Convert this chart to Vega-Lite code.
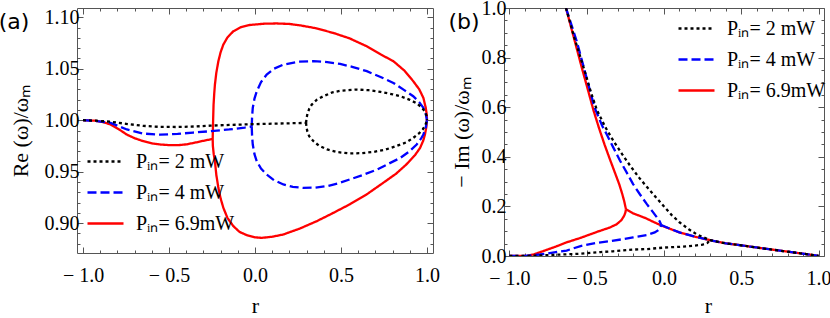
{
  "$schema": "https://vega.github.io/schema/vega-lite/v6.json",
  "padding": {"left": -2, "top": -3, "right": 0, "bottom": 0},
  "background": "white",
  "config": {"font": "Liberation Serif", "view": {"stroke": "#555", "strokeWidth": 1}},
  "bounds": "flush",
  "spacing": 71,
  "resolve": {"legend": {"color": "independent", "strokeDash": "independent"}},
  "datasets": {
    "re": [
      {"p":"6.9","s":"a","r":-1,"v":1.0},{"p":"6.9","s":"a","r":-0.93,"v":0.9995},{"p":"6.9","s":"a","r":-0.88,"v":0.998},{"p":"6.9","s":"a","r":-0.84,"v":0.9958},{"p":"6.9","s":"a","r":-0.79,"v":0.991},{"p":"6.9","s":"a","r":-0.745,"v":0.986},{"p":"6.9","s":"a","r":-0.7,"v":0.9825},{"p":"6.9","s":"a","r":-0.65,"v":0.9796},{"p":"6.9","s":"a","r":-0.6,"v":0.9775},{"p":"6.9","s":"a","r":-0.55,"v":0.9764},{"p":"6.9","s":"a","r":-0.5,"v":0.9758},{"p":"6.9","s":"a","r":-0.45,"v":0.9757},{"p":"6.9","s":"a","r":-0.4,"v":0.9765},{"p":"6.9","s":"a","r":-0.355,"v":0.978},{"p":"6.9","s":"a","r":-0.3,"v":0.98},{"p":"6.9","s":"a","r":-0.246,"v":0.9818},
      {"p":"6.9","s":"b","r":-0.246,"v":0.9818},{"p":"6.9","s":"b","r":-0.245,"v":0.99},{"p":"6.9","s":"b","r":-0.2435,"v":1.0},{"p":"6.9","s":"b","r":-0.241,"v":1.015},{"p":"6.9","s":"b","r":-0.237,"v":1.026},{"p":"6.9","s":"b","r":-0.233,"v":1.0347},{"p":"6.9","s":"b","r":-0.225,"v":1.046},{"p":"6.9","s":"b","r":-0.213,"v":1.0573},{"p":"6.9","s":"b","r":-0.2,"v":1.066},{"p":"6.9","s":"b","r":-0.184,"v":1.0735},{"p":"6.9","s":"b","r":-0.16,"v":1.0805},{"p":"6.9","s":"b","r":-0.126,"v":1.0864},{"p":"6.9","s":"b","r":-0.08,"v":1.0905},{"p":"6.9","s":"b","r":-0.03,"v":1.0925},{"p":"6.9","s":"b","r":0.05,"v":1.0937},{"p":"6.9","s":"b","r":0.125,"v":1.094},{"p":"6.9","s":"b","r":0.2,"v":1.0935},{"p":"6.9","s":"b","r":0.26,"v":1.0922},{"p":"6.9","s":"b","r":0.35,"v":1.0895},{"p":"6.9","s":"b","r":0.455,"v":1.0848},{"p":"6.9","s":"b","r":0.55,"v":1.0795},{"p":"6.9","s":"b","r":0.65,"v":1.0718},{"p":"6.9","s":"b","r":0.73,"v":1.064},{"p":"6.9","s":"b","r":0.805,"v":1.0573},{"p":"6.9","s":"b","r":0.87,"v":1.048},{"p":"6.9","s":"b","r":0.92,"v":1.0379},{"p":"6.9","s":"b","r":0.955,"v":1.03},{"p":"6.9","s":"b","r":0.979,"v":1.0217},{"p":"6.9","s":"b","r":0.993,"v":1.012},{"p":"6.9","s":"b","r":0.999,"v":1.005},{"p":"6.9","s":"b","r":1.0,"v":1.0},
      {"p":"6.9","s":"c","r":-0.246,"v":0.9818},{"p":"6.9","s":"c","r":-0.245,"v":0.975},{"p":"6.9","s":"c","r":-0.24,"v":0.967},{"p":"6.9","s":"c","r":-0.233,"v":0.9602},{"p":"6.9","s":"c","r":-0.225,"v":0.947},{"p":"6.9","s":"c","r":-0.213,"v":0.9343},{"p":"6.9","s":"c","r":-0.2,"v":0.924},{"p":"6.9","s":"c","r":-0.184,"v":0.9149},{"p":"6.9","s":"c","r":-0.16,"v":0.905},{"p":"6.9","s":"c","r":-0.126,"v":0.8971},{"p":"6.9","s":"c","r":-0.09,"v":0.8915},{"p":"6.9","s":"c","r":-0.048,"v":0.8883},{"p":"6.9","s":"c","r":0.0,"v":0.8862},{"p":"6.9","s":"c","r":0.04,"v":0.8857},{"p":"6.9","s":"c","r":0.1,"v":0.8868},{"p":"6.9","s":"c","r":0.165,"v":0.889},{"p":"6.9","s":"c","r":0.26,"v":0.8947},{"p":"6.9","s":"c","r":0.36,"v":0.902},{"p":"6.9","s":"c","r":0.45,"v":0.9095},{"p":"6.9","s":"c","r":0.55,"v":0.9182},{"p":"6.9","s":"c","r":0.65,"v":0.928},{"p":"6.9","s":"c","r":0.745,"v":0.9391},{"p":"6.9","s":"c","r":0.82,"v":0.948},{"p":"6.9","s":"c","r":0.88,"v":0.957},{"p":"6.9","s":"c","r":0.93,"v":0.966},{"p":"6.9","s":"c","r":0.96,"v":0.9731},{"p":"6.9","s":"c","r":0.978,"v":0.98},{"p":"6.9","s":"c","r":0.988,"v":0.986},{"p":"6.9","s":"c","r":0.996,"v":0.993},{"p":"6.9","s":"c","r":1.0,"v":1.0},
      {"p":"4","s":"a","r":-1,"v":1.0},{"p":"4","s":"a","r":-0.92,"v":0.9992},{"p":"4","s":"a","r":-0.84,"v":0.9974},{"p":"4","s":"a","r":-0.745,"v":0.991},{"p":"4","s":"a","r":-0.65,"v":0.987},{"p":"4","s":"a","r":-0.55,"v":0.986},{"p":"4","s":"a","r":-0.45,"v":0.9867},{"p":"4","s":"a","r":-0.36,"v":0.988},{"p":"4","s":"a","r":-0.26,"v":0.9893},{"p":"4","s":"a","r":-0.15,"v":0.991},{"p":"4","s":"a","r":-0.06,"v":0.9928},{"p":"4","s":"a","r":-0.019,"v":0.9938},
      {"p":"4","s":"b","r":-0.019,"v":0.9938},{"p":"4","s":"b","r":-0.017,"v":1.003},{"p":"4","s":"b","r":-0.013,"v":1.012},{"p":"4","s":"b","r":-0.003,"v":1.021},{"p":"4","s":"b","r":0.01,"v":1.028},{"p":"4","s":"b","r":0.035,"v":1.037},{"p":"4","s":"b","r":0.068,"v":1.0444},{"p":"4","s":"b","r":0.11,"v":1.05},{"p":"4","s":"b","r":0.165,"v":1.054},{"p":"4","s":"b","r":0.25,"v":1.0568},{"p":"4","s":"b","r":0.34,"v":1.0573},{"p":"4","s":"b","r":0.42,"v":1.0565},{"p":"4","s":"b","r":0.495,"v":1.0547},{"p":"4","s":"b","r":0.57,"v":1.0516},{"p":"4","s":"b","r":0.65,"v":1.0476},{"p":"4","s":"b","r":0.73,"v":1.042},{"p":"4","s":"b","r":0.805,"v":1.0362},{"p":"4","s":"b","r":0.87,"v":1.029},{"p":"4","s":"b","r":0.92,"v":1.0233},{"p":"4","s":"b","r":0.955,"v":1.0175},{"p":"4","s":"b","r":0.979,"v":1.012},{"p":"4","s":"b","r":0.993,"v":1.006},{"p":"4","s":"b","r":1.0,"v":1.0},
      {"p":"4","s":"c","r":-0.019,"v":0.9938},{"p":"4","s":"c","r":-0.017,"v":0.985},{"p":"4","s":"c","r":-0.013,"v":0.9764},{"p":"4","s":"c","r":-0.003,"v":0.967},{"p":"4","s":"c","r":0.01,"v":0.9602},{"p":"4","s":"c","r":0.035,"v":0.953},{"p":"4","s":"c","r":0.068,"v":0.9473},{"p":"4","s":"c","r":0.11,"v":0.9418},{"p":"4","s":"c","r":0.165,"v":0.9376},{"p":"4","s":"c","r":0.22,"v":0.9352},{"p":"4","s":"c","r":0.28,"v":0.9343},{"p":"4","s":"c","r":0.35,"v":0.9345},{"p":"4","s":"c","r":0.42,"v":0.936},{"p":"4","s":"c","r":0.49,"v":0.939},{"p":"4","s":"c","r":0.55,"v":0.9424},{"p":"4","s":"c","r":0.63,"v":0.947},{"p":"4","s":"c","r":0.71,"v":0.9521},{"p":"4","s":"c","r":0.78,"v":0.958},{"p":"4","s":"c","r":0.845,"v":0.9634},{"p":"4","s":"c","r":0.9,"v":0.97},{"p":"4","s":"c","r":0.94,"v":0.9764},{"p":"4","s":"c","r":0.965,"v":0.982},{"p":"4","s":"c","r":0.979,"v":0.9861},{"p":"4","s":"c","r":0.993,"v":0.993},{"p":"4","s":"c","r":1.0,"v":1.0},
      {"p":"2","s":"a","r":-1,"v":1.0},{"p":"2","s":"a","r":-0.92,"v":0.9995},{"p":"2","s":"a","r":-0.84,"v":0.9985},{"p":"2","s":"a","r":-0.75,"v":0.9965},{"p":"2","s":"a","r":-0.65,"v":0.9945},{"p":"2","s":"a","r":-0.55,"v":0.9935},{"p":"2","s":"a","r":-0.45,"v":0.9934},{"p":"2","s":"a","r":-0.35,"v":0.9939},{"p":"2","s":"a","r":-0.26,"v":0.9947},{"p":"2","s":"a","r":-0.15,"v":0.9954},{"p":"2","s":"a","r":-0.02,"v":0.9961},{"p":"2","s":"a","r":0.1,"v":0.9966},{"p":"2","s":"a","r":0.2,"v":0.997},{"p":"2","s":"a","r":0.297,"v":0.9974},
      {"p":"2","s":"b","r":0.297,"v":0.9974},{"p":"2","s":"b","r":0.299,"v":1.001},{"p":"2","s":"b","r":0.304,"v":1.0055},{"p":"2","s":"b","r":0.315,"v":1.011},{"p":"2","s":"b","r":0.33,"v":1.0152},{"p":"2","s":"b","r":0.36,"v":1.02},{"p":"2","s":"b","r":0.4,"v":1.0235},{"p":"2","s":"b","r":0.45,"v":1.027},{"p":"2","s":"b","r":0.5,"v":1.0287},{"p":"2","s":"b","r":0.59,"v":1.0298},{"p":"2","s":"b","r":0.66,"v":1.0292},{"p":"2","s":"b","r":0.73,"v":1.0275},{"p":"2","s":"b","r":0.8,"v":1.0252},{"p":"2","s":"b","r":0.85,"v":1.023},{"p":"2","s":"b","r":0.9,"v":1.0198},{"p":"2","s":"b","r":0.94,"v":1.0165},{"p":"2","s":"b","r":0.97,"v":1.0122},{"p":"2","s":"b","r":0.988,"v":1.0087},{"p":"2","s":"b","r":0.997,"v":1.0045},{"p":"2","s":"b","r":1.0,"v":1.0},
      {"p":"2","s":"c","r":0.297,"v":0.9974},{"p":"2","s":"c","r":0.299,"v":0.9935},{"p":"2","s":"c","r":0.304,"v":0.9893},{"p":"2","s":"c","r":0.315,"v":0.9845},{"p":"2","s":"c","r":0.34,"v":0.9796},{"p":"2","s":"c","r":0.37,"v":0.9755},{"p":"2","s":"c","r":0.42,"v":0.9716},{"p":"2","s":"c","r":0.48,"v":0.969},{"p":"2","s":"c","r":0.55,"v":0.9677},{"p":"2","s":"c","r":0.62,"v":0.968},{"p":"2","s":"c","r":0.69,"v":0.9692},{"p":"2","s":"c","r":0.76,"v":0.9715},{"p":"2","s":"c","r":0.82,"v":0.9748},{"p":"2","s":"c","r":0.88,"v":0.9785},{"p":"2","s":"c","r":0.92,"v":0.9828},{"p":"2","s":"c","r":0.955,"v":0.9875},{"p":"2","s":"c","r":0.975,"v":0.991},{"p":"2","s":"c","r":0.99,"v":0.995},{"p":"2","s":"c","r":1.0,"v":1.0}
    ],
    "im": [
      {"p":"6.9","s":"u","r":-0.634,"v":1.0},{"p":"6.9","s":"u","r":-0.585,"v":0.885},{"p":"6.9","s":"u","r":-0.532,"v":0.76},{"p":"6.9","s":"u","r":-0.49,"v":0.665},{"p":"6.9","s":"u","r":-0.455,"v":0.585},{"p":"6.9","s":"u","r":-0.42,"v":0.515},{"p":"6.9","s":"u","r":-0.385,"v":0.45},{"p":"6.9","s":"u","r":-0.35,"v":0.39},{"p":"6.9","s":"u","r":-0.317,"v":0.335},{"p":"6.9","s":"u","r":-0.29,"v":0.29},{"p":"6.9","s":"u","r":-0.27,"v":0.25},{"p":"6.9","s":"u","r":-0.257,"v":0.22},{"p":"6.9","s":"u","r":-0.25,"v":0.2},{"p":"6.9","s":"u","r":-0.246,"v":0.188},
      {"p":"6.9","s":"l","r":-1,"v":0},{"p":"6.9","s":"l","r":-0.89,"v":0},{"p":"6.9","s":"l","r":-0.845,"v":0.006},{"p":"6.9","s":"l","r":-0.78,"v":0.02},{"p":"6.9","s":"l","r":-0.7,"v":0.038},{"p":"6.9","s":"l","r":-0.63,"v":0.055},{"p":"6.9","s":"l","r":-0.54,"v":0.073},{"p":"6.9","s":"l","r":-0.43,"v":0.098},{"p":"6.9","s":"l","r":-0.35,"v":0.115},{"p":"6.9","s":"l","r":-0.306,"v":0.128},{"p":"6.9","s":"l","r":-0.275,"v":0.145},{"p":"6.9","s":"l","r":-0.258,"v":0.162},{"p":"6.9","s":"l","r":-0.25,"v":0.175},{"p":"6.9","s":"l","r":-0.246,"v":0.188},
      {"p":"6.9","s":"c","r":-0.246,"v":0.188},{"p":"6.9","s":"c","r":-0.2,"v":0.172},{"p":"6.9","s":"c","r":-0.12,"v":0.153},{"p":"6.9","s":"c","r":-0.06,"v":0.135},{"p":"6.9","s":"c","r":-0.018,"v":0.123},{"p":"6.9","s":"c","r":0.05,"v":0.107},{"p":"6.9","s":"c","r":0.1,"v":0.095},{"p":"6.9","s":"c","r":0.2,"v":0.078},{"p":"6.9","s":"c","r":0.297,"v":0.064},{"p":"6.9","s":"c","r":0.35,"v":0.057},{"p":"6.9","s":"c","r":0.4,"v":0.051},{"p":"6.9","s":"c","r":0.5,"v":0.043},{"p":"6.9","s":"c","r":0.556,"v":0.038},{"p":"6.9","s":"c","r":0.65,"v":0.03},{"p":"6.9","s":"c","r":0.77,"v":0.02},{"p":"6.9","s":"c","r":0.88,"v":0.011},{"p":"6.9","s":"c","r":0.95,"v":0.005},{"p":"6.9","s":"c","r":1.0,"v":0},
      {"p":"4","s":"u","r":-0.634,"v":1.0},{"p":"4","s":"u","r":-0.565,"v":0.867},{"p":"4","s":"u","r":-0.51,"v":0.74},{"p":"4","s":"u","r":-0.45,"v":0.6},{"p":"4","s":"u","r":-0.4,"v":0.525},{"p":"4","s":"u","r":-0.37,"v":0.49},{"p":"4","s":"u","r":-0.33,"v":0.44},{"p":"4","s":"u","r":-0.285,"v":0.385},{"p":"4","s":"u","r":-0.24,"v":0.335},{"p":"4","s":"u","r":-0.2,"v":0.29},{"p":"4","s":"u","r":-0.155,"v":0.248},{"p":"4","s":"u","r":-0.112,"v":0.21},{"p":"4","s":"u","r":-0.075,"v":0.18},{"p":"4","s":"u","r":-0.047,"v":0.157},{"p":"4","s":"u","r":-0.028,"v":0.14},{"p":"4","s":"u","r":-0.018,"v":0.125},
      {"p":"4","s":"l","r":-1,"v":0},{"p":"4","s":"l","r":-0.89,"v":0.001},{"p":"4","s":"l","r":-0.8,"v":0.006},{"p":"4","s":"l","r":-0.63,"v":0.022},{"p":"4","s":"l","r":-0.54,"v":0.04},{"p":"4","s":"l","r":-0.435,"v":0.053},{"p":"4","s":"l","r":-0.35,"v":0.06},{"p":"4","s":"l","r":-0.263,"v":0.068},{"p":"4","s":"l","r":-0.2,"v":0.075},{"p":"4","s":"l","r":-0.112,"v":0.084},{"p":"4","s":"l","r":-0.06,"v":0.095},{"p":"4","s":"l","r":-0.037,"v":0.104},{"p":"4","s":"l","r":-0.025,"v":0.113},{"p":"4","s":"l","r":-0.018,"v":0.125},
      {"p":"4","s":"c","r":-0.018,"v":0.125},{"p":"4","s":"c","r":0.05,"v":0.107},{"p":"4","s":"c","r":0.1,"v":0.095},{"p":"4","s":"c","r":0.2,"v":0.078},{"p":"4","s":"c","r":0.297,"v":0.064},{"p":"4","s":"c","r":0.35,"v":0.057},{"p":"4","s":"c","r":0.4,"v":0.051},{"p":"4","s":"c","r":0.5,"v":0.043},{"p":"4","s":"c","r":0.556,"v":0.038},{"p":"4","s":"c","r":0.65,"v":0.03},{"p":"4","s":"c","r":0.77,"v":0.02},{"p":"4","s":"c","r":0.88,"v":0.011},{"p":"4","s":"c","r":0.95,"v":0.005},{"p":"4","s":"c","r":1.0,"v":0},
      {"p":"2","s":"u","r":-0.634,"v":1.0},{"p":"2","s":"u","r":-0.58,"v":0.88},{"p":"2","s":"u","r":-0.52,"v":0.76},{"p":"2","s":"u","r":-0.47,"v":0.655},{"p":"2","s":"u","r":-0.435,"v":0.59},{"p":"2","s":"u","r":-0.38,"v":0.52},{"p":"2","s":"u","r":-0.33,"v":0.467},{"p":"2","s":"u","r":-0.27,"v":0.41},{"p":"2","s":"u","r":-0.22,"v":0.365},{"p":"2","s":"u","r":-0.16,"v":0.315},{"p":"2","s":"u","r":-0.11,"v":0.278},{"p":"2","s":"u","r":-0.05,"v":0.235},{"p":"2","s":"u","r":0.0,"v":0.2},{"p":"2","s":"u","r":0.05,"v":0.165},{"p":"2","s":"u","r":0.1,"v":0.136},{"p":"2","s":"u","r":0.16,"v":0.108},{"p":"2","s":"u","r":0.21,"v":0.088},{"p":"2","s":"u","r":0.26,"v":0.074},{"p":"2","s":"u","r":0.297,"v":0.064},
      {"p":"2","s":"l","r":-1,"v":0},{"p":"2","s":"l","r":-0.85,"v":0.001},{"p":"2","s":"l","r":-0.7,"v":0.005},{"p":"2","s":"l","r":-0.63,"v":0.007},{"p":"2","s":"l","r":-0.54,"v":0.009},{"p":"2","s":"l","r":-0.41,"v":0.016},{"p":"2","s":"l","r":-0.33,"v":0.019},{"p":"2","s":"l","r":-0.2,"v":0.026},{"p":"2","s":"l","r":-0.11,"v":0.028},{"p":"2","s":"l","r":0.0,"v":0.034},{"p":"2","s":"l","r":0.1,"v":0.037},{"p":"2","s":"l","r":0.2,"v":0.042},{"p":"2","s":"l","r":0.25,"v":0.046},{"p":"2","s":"l","r":0.28,"v":0.052},{"p":"2","s":"l","r":0.297,"v":0.064},
      {"p":"2","s":"c","r":0.297,"v":0.064},{"p":"2","s":"c","r":0.35,"v":0.057},{"p":"2","s":"c","r":0.4,"v":0.051},{"p":"2","s":"c","r":0.5,"v":0.043},{"p":"2","s":"c","r":0.556,"v":0.038},{"p":"2","s":"c","r":0.65,"v":0.03},{"p":"2","s":"c","r":0.77,"v":0.02},{"p":"2","s":"c","r":0.88,"v":0.011},{"p":"2","s":"c","r":0.95,"v":0.005},{"p":"2","s":"c","r":1.0,"v":0}
    ]
  },
  "hconcat": [
    {
      "width": 356,
      "height": 245,
      "resolve": {"axis": {"x": "independent", "y": "independent"}},
      "layer": [
        {
          "data": {"name": "re"},
          "mark": {"type": "line", "strokeWidth": 2.3, "clip": true},
          "encoding": {
            "x": {"field": "r", "type": "quantitative",
              "scale": {"domain": [-1.035, 1.035], "nice": false, "zero": false},
              "axis": {"orient": "bottom", "values": [-1,-0.9,-0.8,-0.7,-0.6,-0.5,-0.4,-0.3,-0.2,-0.1,0,0.1,0.2,0.3,0.4,0.5,0.6,0.7,0.8,0.9,1],
                "title": "r", "titleFont": "Liberation Serif", "titleFontSize": 22, "titleFontWeight": "normal", "titleColor": "black", "titlePadding": 7,
                "domain": false, "grid": false, "tickColor": "#555",
                "tickSize": {"condition": {"test": "abs(datum.value*2-round(datum.value*2))<0.001", "value": -6}, "value": -3},
                "labelExpr": "abs(datum.value*2-round(datum.value*2))<0.001 ? (datum.value < -0.001 ? '− ' + format(-datum.value,'.1f') : format(abs(datum.value),'.1f')) : ''",
                "labelFont": "Liberation Serif", "labelFontSize": 20, "labelColor": "black", "labelPadding": 18, "labelOverlap": false, "labelFlush": false, "labelBound": false}},
            "y": {"field": "v", "type": "quantitative",
              "scale": {"domain": [0.871, 1.109], "nice": false, "zero": false},
              "axis": {"orient": "left", "values": [0.88,0.89,0.9,0.91,0.92,0.93,0.94,0.95,0.96,0.97,0.98,0.99,1,1.01,1.02,1.03,1.04,1.05,1.06,1.07,1.08,1.09,1.1],
                "title": "Re (ω)/ωₘ", "titleFont": "Liberation Serif", "titleFontSize": 22, "titleFontWeight": "normal", "titleColor": "black", "titlePadding": 12,
                "domain": false, "grid": false, "tickColor": "#555",
                "tickSize": {"condition": {"test": "abs(datum.value*20-round(datum.value*20))<0.001", "value": -6}, "value": -3},
                "labelExpr": "abs(datum.value*20-round(datum.value*20))<0.001 ? format(datum.value,'.2f') : ''",
                "labelFont": "Liberation Serif", "labelFontSize": 20, "labelColor": "black", "labelPadding": 4, "labelOverlap": false, "labelBound": false}},
            "color": {"field": "p", "type": "nominal",
              "scale": {"domain": ["2","4","6.9"], "range": ["#000000","#0000ff","#ff0000"]},
              "legend": {"title": null, "orient": "none", "legendX": 9, "legendY": 134, "symbolType": "stroke", "symbolSize": 1296, "symbolStrokeWidth": 2.3, "labelFont": "Liberation Serif", "labelFontSize": 20, "labelColor": "black", "labelOffset": 11, "rowPadding": 1, "padding": 0, "labelExpr": "'Pᵢₙ= ' + datum.label + (datum.label == '6.9' ? 'mW' : ' mW')"}},
            "strokeDash": {"field": "p", "type": "nominal",
              "scale": {"domain": ["2","4","6.9"], "range": [[3,3],[9,4],[1,0]]},
              "legend": {"title": null, "orient": "none", "legendX": 9, "legendY": 134, "symbolType": "stroke", "symbolSize": 1296, "symbolStrokeWidth": 2.3, "labelFont": "Liberation Serif", "labelFontSize": 20, "labelColor": "black", "labelOffset": 11, "rowPadding": 1, "padding": 0, "labelExpr": "'Pᵢₙ= ' + datum.label + (datum.label == '6.9' ? 'mW' : ' mW')"}},
            "detail": {"field": "s"},
            "order": {"value": null}
          }
        },
        {
          "data": {"values": [{"lab": "(a)"}]},
          "mark": {"type": "text", "font": "DejaVu Sans", "fontSize": 22, "align": "center", "baseline": "middle", "color": "black"},
          "encoding": {
            "text": {"field": "lab"},
            "x": {"datum": -1.401, "type": "quantitative",
              "scale": {"domain": [-1.035, 1.035], "nice": false, "zero": false},
              "axis": {"orient": "top", "values": [-1,-0.9,-0.8,-0.7,-0.6,-0.5,-0.4,-0.3,-0.2,-0.1,0,0.1,0.2,0.3,0.4,0.5,0.6,0.7,0.8,0.9,1],
                "title": null, "labels": false, "domain": false, "grid": false, "tickColor": "#555",
                "tickSize": {"condition": {"test": "abs(datum.value*2-round(datum.value*2))<0.001", "value": -6}, "value": -3}}},
            "y": {"datum": 1.0951, "type": "quantitative",
              "scale": {"domain": [0.871, 1.109], "nice": false, "zero": false},
              "axis": {"orient": "right", "values": [0.88,0.89,0.9,0.91,0.92,0.93,0.94,0.95,0.96,0.97,0.98,0.99,1,1.01,1.02,1.03,1.04,1.05,1.06,1.07,1.08,1.09,1.1],
                "title": null, "labels": false, "domain": false, "grid": false, "tickColor": "#555",
                "tickSize": {"condition": {"test": "abs(datum.value*20-round(datum.value*20))<0.001", "value": -6}, "value": -3}}}
          }
        }
      ]
    },
    {
      "width": 320,
      "height": 248,
      "resolve": {"axis": {"x": "independent", "y": "independent"}},
      "layer": [
        {
          "data": {"name": "im"},
          "mark": {"type": "line", "strokeWidth": 2.3, "clip": true},
          "encoding": {
            "x": {"field": "r", "type": "quantitative",
              "scale": {"domain": [-1.035, 1.035], "nice": false, "zero": false},
              "axis": {"orient": "bottom", "values": [-1,-0.9,-0.8,-0.7,-0.6,-0.5,-0.4,-0.3,-0.2,-0.1,0,0.1,0.2,0.3,0.4,0.5,0.6,0.7,0.8,0.9,1],
                "title": "r", "titleFont": "Liberation Serif", "titleFontSize": 22, "titleFontWeight": "normal", "titleColor": "black", "titlePadding": 4, "titleX": 204,
                "domain": false, "grid": false, "tickColor": "#555",
                "tickSize": {"condition": {"test": "abs(datum.value*2-round(datum.value*2))<0.001", "value": -6}, "value": -3},
                "labelExpr": "abs(datum.value*2-round(datum.value*2))<0.001 ? (datum.value < -0.001 ? '− ' + format(-datum.value,'.1f') : format(abs(datum.value),'.1f')) : ''",
                "labelFont": "Liberation Serif", "labelFontSize": 20, "labelColor": "black", "labelPadding": 18, "labelOverlap": false, "labelFlush": false, "labelBound": false}},
            "y": {"field": "v", "type": "quantitative",
              "scale": {"domain": [0, 1], "nice": false, "zero": false},
              "axis": {"orient": "left", "values": [0,0.05,0.1,0.15,0.2,0.25,0.3,0.35,0.4,0.45,0.5,0.55,0.6,0.65,0.7,0.75,0.8,0.85,0.9,0.95,1],
                "title": "− Im (ω)/ωₘ", "titleFont": "Liberation Serif", "titleFontSize": 22, "titleFontWeight": "normal", "titleColor": "black", "titlePadding": 8,
                "domain": false, "grid": false, "tickColor": "#555",
                "tickSize": {"condition": {"test": "abs(datum.value*5-round(datum.value*5))<0.001", "value": -6}, "value": -3},
                "labelExpr": "abs(datum.value*5-round(datum.value*5))<0.001 ? format(datum.value,'.1f') : ''",
                "labelFont": "Liberation Serif", "labelFontSize": 20, "labelColor": "black", "labelPadding": 4, "labelOverlap": false, "labelBound": false, "labelFlush": false}},
            "color": {"field": "p", "type": "nominal",
              "scale": {"domain": ["2","4","6.9"], "range": ["#000000","#0000ff","#ff0000"]},
              "legend": {"title": null, "orient": "none", "legendX": 173, "legendY": 1, "symbolType": "stroke", "symbolSize": 1296, "symbolStrokeWidth": 2.3, "labelFont": "Liberation Serif", "labelFontSize": 20, "labelColor": "black", "labelOffset": 11, "rowPadding": 1, "padding": 0, "labelExpr": "'Pᵢₙ= ' + datum.label + (datum.label == '6.9' ? 'mW' : ' mW')"}},
            "strokeDash": {"field": "p", "type": "nominal",
              "scale": {"domain": ["2","4","6.9"], "range": [[3,3],[9,4],[1,0]]},
              "legend": {"title": null, "orient": "none", "legendX": 173, "legendY": 1, "symbolType": "stroke", "symbolSize": 1296, "symbolStrokeWidth": 2.3, "labelFont": "Liberation Serif", "labelFontSize": 20, "labelColor": "black", "labelOffset": 11, "rowPadding": 1, "padding": 0, "labelExpr": "'Pᵢₙ= ' + datum.label + (datum.label == '6.9' ? 'mW' : ' mW')"}},
            "detail": {"field": "s"},
            "order": {"value": null}
          }
        },
        {
          "data": {"values": [{"lab": "(b)"}]},
          "mark": {"type": "text", "font": "DejaVu Sans", "fontSize": 22, "align": "center", "baseline": "middle", "color": "black"},
          "encoding": {
            "text": {"field": "lab"},
            "x": {"datum": -1.294, "type": "quantitative",
              "scale": {"domain": [-1.035, 1.035], "nice": false, "zero": false},
              "axis": {"orient": "top", "values": [-1,-0.9,-0.8,-0.7,-0.6,-0.5,-0.4,-0.3,-0.2,-0.1,0,0.1,0.2,0.3,0.4,0.5,0.6,0.7,0.8,0.9,1],
                "title": null, "labels": false, "domain": false, "grid": false, "tickColor": "#555",
                "tickSize": {"condition": {"test": "abs(datum.value*2-round(datum.value*2))<0.001", "value": -6}, "value": -3}}},
            "y": {"datum": 0.9435, "type": "quantitative",
              "scale": {"domain": [0, 1], "nice": false, "zero": false},
              "axis": {"orient": "right", "values": [0,0.05,0.1,0.15,0.2,0.25,0.3,0.35,0.4,0.45,0.5,0.55,0.6,0.65,0.7,0.75,0.8,0.85,0.9,0.95,1],
                "title": null, "labels": false, "domain": false, "grid": false, "tickColor": "#555",
                "tickSize": {"condition": {"test": "abs(datum.value*5-round(datum.value*5))<0.001", "value": -6}, "value": -3}}}
          }
        }
      ]
    }
  ]
}
